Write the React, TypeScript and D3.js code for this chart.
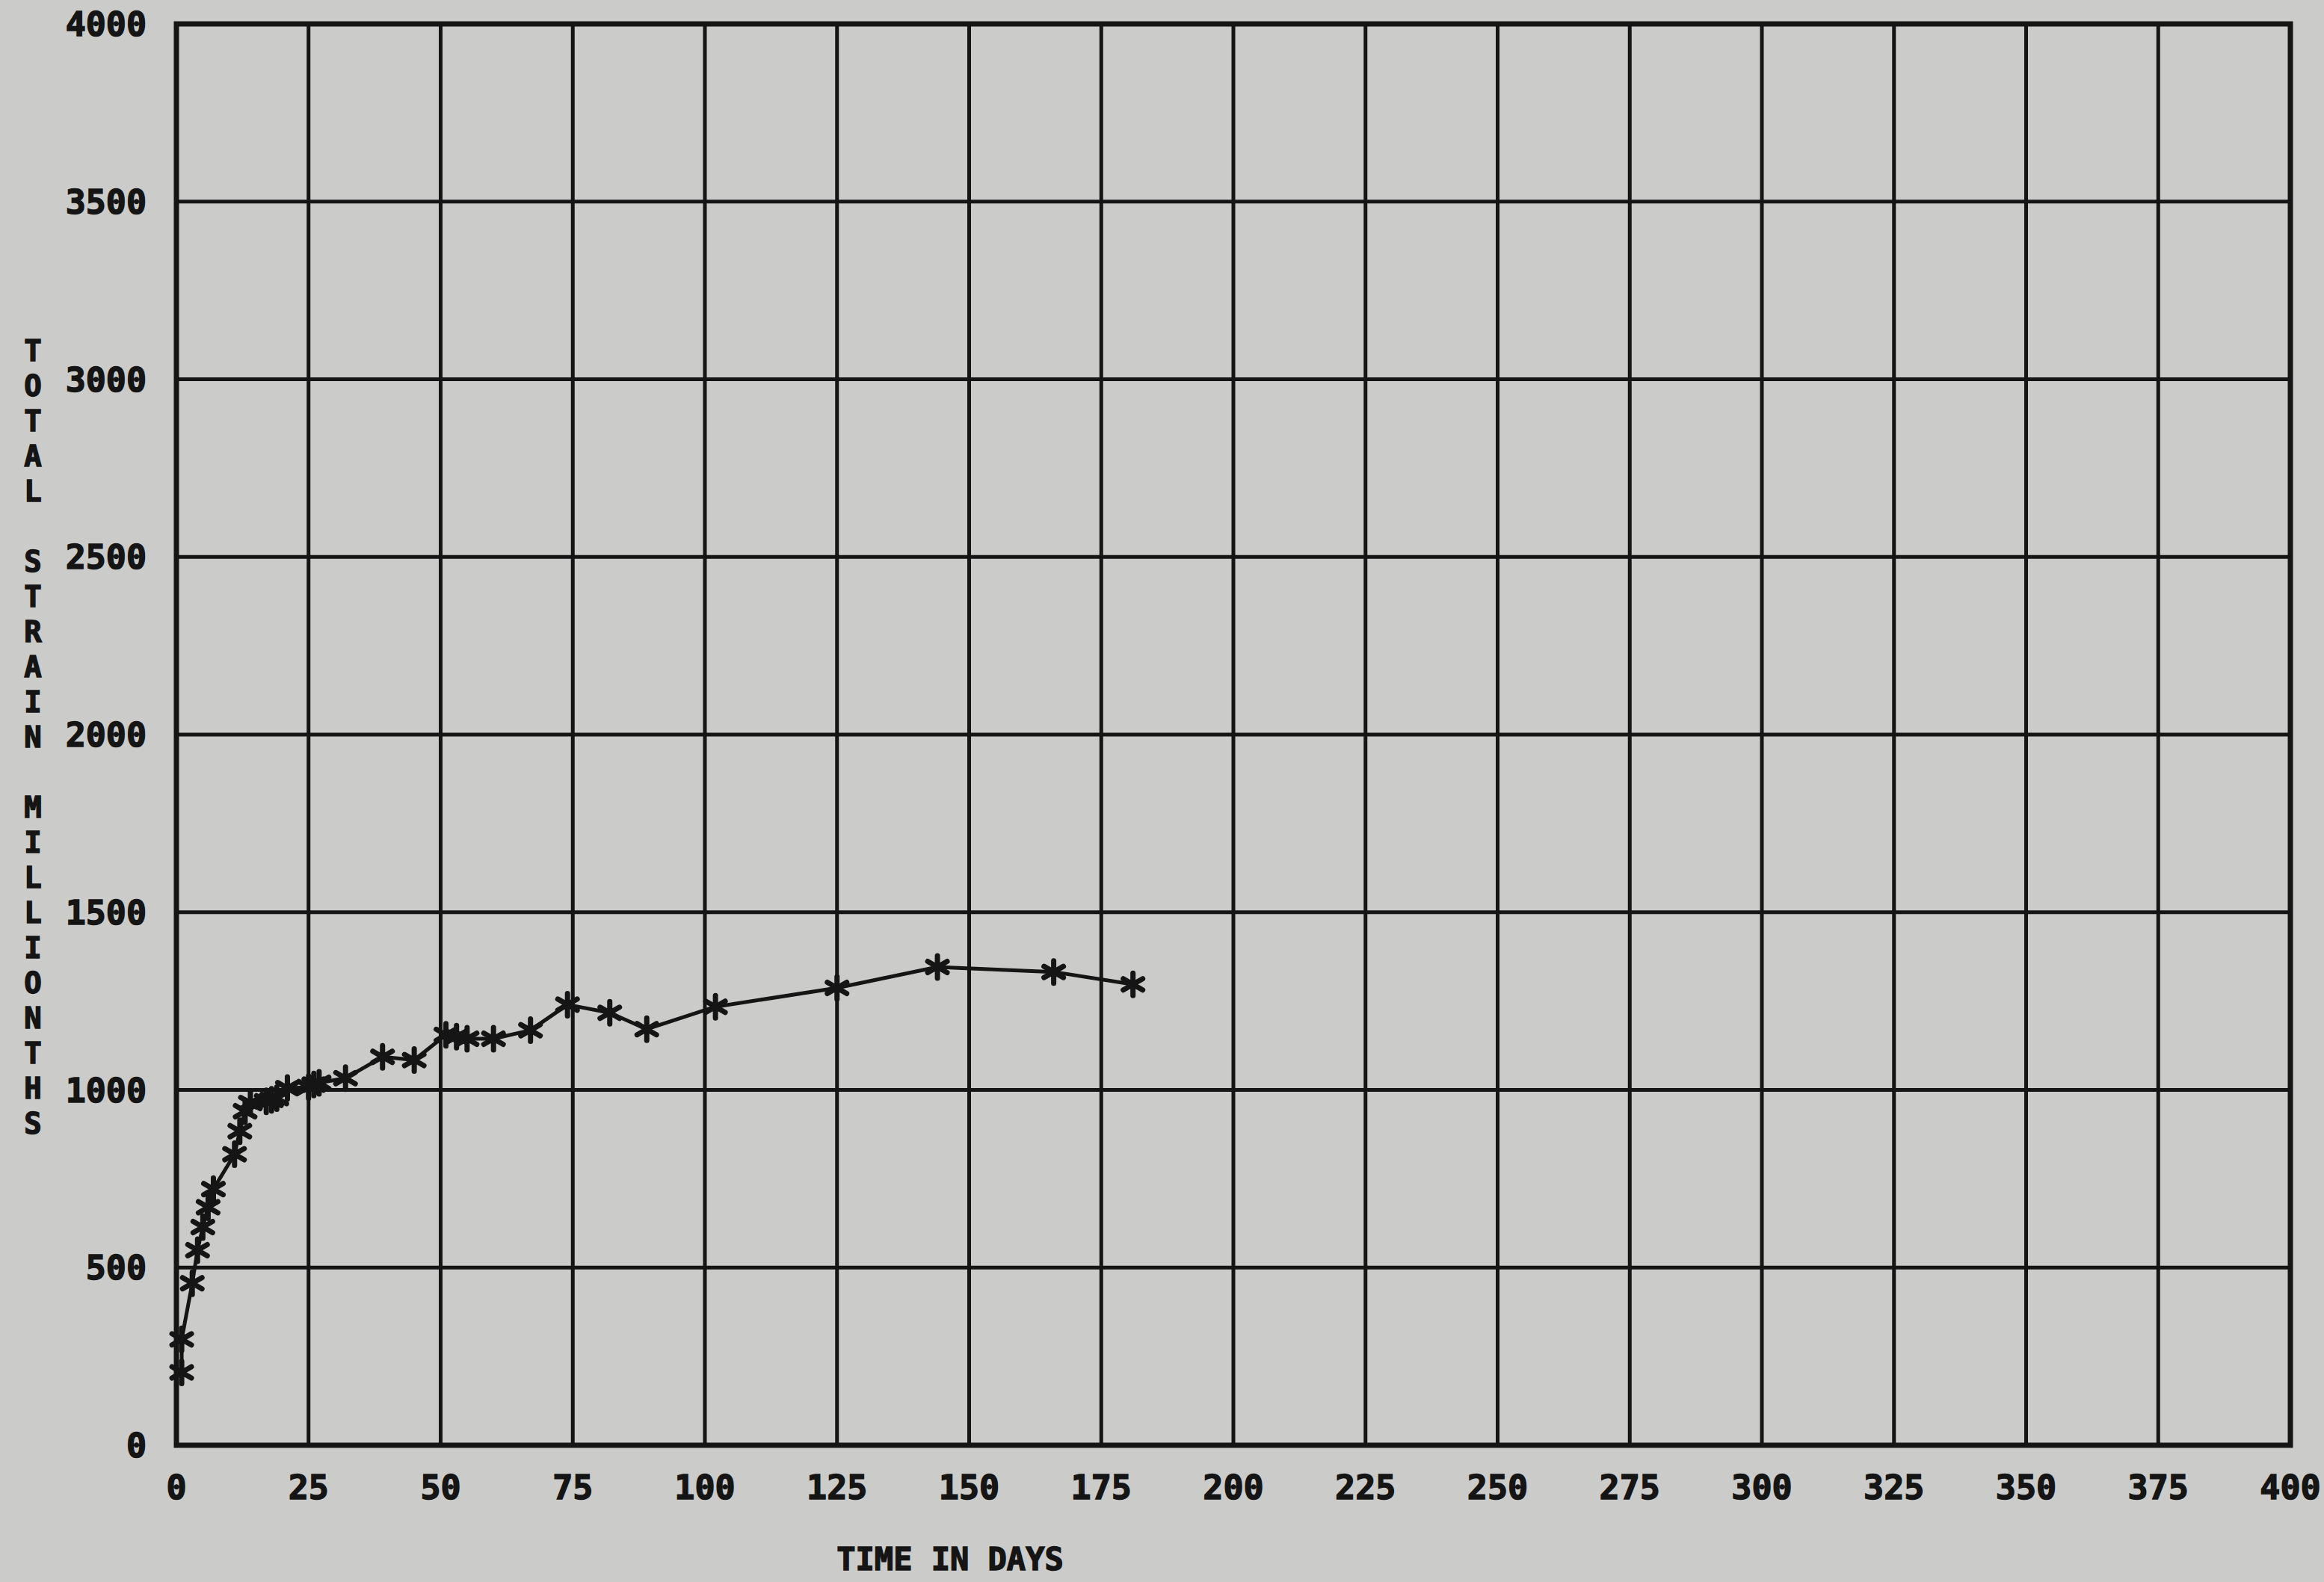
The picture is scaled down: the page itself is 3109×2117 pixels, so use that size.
import React from "react";
import * as d3 from "d3";

const W = 3109;
const H = 2117;

// data (days, total strain in millionths)
const days: number[] = [1, 1, 3, 4, 5, 6, 7, 11, 12, 13, 14, 17, 18, 19, 21, 25, 26, 27, 32, 39, 45, 51, 53, 55, 60, 67, 74, 82, 89, 102, 125, 144, 166, 181];
const strain: number[] = [205, 298, 456, 549, 614, 670, 721, 819, 884, 940, 963, 968, 972, 977, 1005, 1008, 1015, 1020, 1033, 1093, 1084, 1155, 1150, 1144, 1144, 1168, 1240, 1217, 1171, 1234, 1287, 1346, 1332, 1297];

const xTicks: number[] = [0, 25, 50, 75, 100, 125, 150, 175, 200, 225, 250, 275, 300, 325, 350, 375, 400];
const yTicks: number[] = [0, 500, 1000, 1500, 2000, 2500, 3000, 3500, 4000];
const xTitle = "TIME IN DAYS";
const yTitle = "TOTAL STRAIN MILLIONTHS";

const INK = "#151515";
const BG = "#cbccc9";
const FONT = "'DejaVu Sans Mono', 'Liberation Mono', monospace";

export default function App() {
  const x = d3.scaleLinear().domain([0, 400]).range([236, 3064]);
  const y = d3.scaleLinear().domain([0, 4000]).range([1934, 32]);

  const pts = days.map((d, i) => [d, strain[i]] as [number, number]);
  const line = d3
    .line<[number, number]>()
    .x((d) => x(d[0]))
    .y((d) => y(d[1]));

  const r = 15;
  const star = (() => {
    const p = d3.path();
    for (let k = 0; k < 3; k++) {
      const a = (Math.PI / 3) * k + Math.PI / 2;
      p.moveTo(r * Math.cos(a), -r * Math.sin(a));
      p.lineTo(-r * Math.cos(a), r * Math.sin(a));
    }
    return p.toString();
  })();

  const letters = yTitle.split("");

  return (
    <svg
      width={W}
      height={H}
      viewBox={`0 0 ${W} ${H}`}
      style={{ position: "absolute", left: 0, top: 0, display: "block" }}
    >
      <rect x={0} y={0} width={W} height={H} fill={BG} />
      {/* grid */}
      <g stroke={INK} strokeWidth={5}>
        {xTicks.map((t) => (
          <line key={"gx" + t} x1={x(t)} x2={x(t)} y1={y(0)} y2={y(4000)} />
        ))}
        {yTicks.map((t) => (
          <line key={"gy" + t} x1={x(0)} x2={x(400)} y1={y(t)} y2={y(t)} />
        ))}
      </g>
      <rect
        x={x(0)}
        y={y(4000)}
        width={x(400) - x(0)}
        height={y(0) - y(4000)}
        fill="none"
        stroke={INK}
        strokeWidth={7}
      />
      {/* tick labels */}
      <g fill={INK} stroke={INK} strokeWidth={1.5} fontFamily={FONT} fontWeight="bold" fontSize={45}>
        {yTicks.map((t) => (
          <text key={"ly" + t} x={196} y={y(t)} dy="0.36em" textAnchor="end">
            {String(t)}
          </text>
        ))}
        {xTicks.map((t) => (
          <text key={"lx" + t} x={x(t)} y={1990} dy="0.36em" textAnchor="middle">
            {String(t)}
          </text>
        ))}
        <text x={1271} y={2086} dy="0.36em" textAnchor="middle" fontSize={42}>
          {xTitle}
        </text>
        {letters.map((c, i) => (
          <text key={"yt" + i} x={44} y={469 + i * 47} dy="0.36em" textAnchor="middle" fontSize={39}>
            {c}
          </text>
        ))}
      </g>
      {/* series */}
      <path d={line(pts) || ""} fill="none" stroke={INK} strokeWidth={5} strokeLinejoin="round" />
      <g stroke={INK} strokeWidth={7} strokeLinecap="round">
        {pts.map((d, i) => (
          <path key={"m" + i} d={star} transform={`translate(${x(d[0])},${y(d[1])})`} />
        ))}
      </g>
    </svg>
  );
}
